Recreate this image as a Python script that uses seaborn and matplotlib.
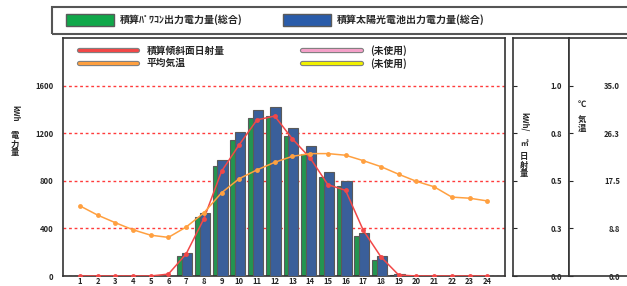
import numpy as np
import pandas as pd
import matplotlib
matplotlib.use("Agg")
import matplotlib.pyplot as plt
import matplotlib.patheffects as pe
from matplotlib.patches import Patch, Rectangle
from matplotlib.lines import Line2D
import seaborn as sns

# データ
hours = list(range(1, 25))
pcs_kwh = [0, 0, 0, 0, 0, 0, 168, 497, 926, 1145, 1330, 1347,
           1179, 1027, 834, 758, 337, 135, 5, 0, 0, 0, 0, 0]
pv_kwh = [0, 0, 0, 0, 0, 0, 194, 530, 977, 1212, 1398, 1423,
          1246, 1095, 876, 800, 362, 168, 15, 0, 0, 0, 0, 0]
solar_rad = [0, 0, 0, 0, 0, 0.01, 0.116, 0.30, 0.55, 0.69, 0.82, 0.84,
             0.72, 0.62, 0.48, 0.45, 0.24, 0.10, 0.005, 0, 0, 0, 0, 0]
avg_temp = [12.9, 11.2, 9.8, 8.5, 7.5, 7.1, 9.0, 11.6, 15.3, 17.9, 19.5, 20.9,
            22.0, 22.5, 22.5, 22.2, 21.2, 20.1, 18.7, 17.4, 16.4, 14.5, 14.3, 13.8]

power_ticks = [0, 400, 800, 1200, 1600]
rad_ticks = [0, 0.25, 0.5, 0.75, 1.0]
rad_labels = ["0.0", "0.3", "0.5", "0.8", "1.0"]
temp_ticks = [0, 8.75, 17.5, 26.25, 35.0]
temp_labels = ["0.0", "8.8", "17.5", "26.3", "35.0"]

pcs_name = "積算ﾊﾟﾜｺﾝ出力電力量(総合)"
pv_name = "積算太陽光電池出力電力量(総合)"
rad_name = "積算傾斜面日射量"
temp_name = "平均気温"
unused_name = "(未使用)"

green = "#10a84a"
blue = "#2a5caa"
red = "#f24848"
orange = "#ffa040"
edge = "#5a5a5a"

sns.set_style("white")
plt.rcParams['font.family'] = ['Noto Sans CJK JP', 'DejaVu Sans']
plt.rcParams['font.weight'] = 'bold'

fig = plt.figure(figsize=(6.27, 2.86), dpi=100)
W, H = 627, 286
bottom = 1 - 276 / H
height = (276 - 38) / H

# メイン（棒グラフ）
ax = fig.add_axes([63 / W, bottom, (505 - 63) / W, height])
df = pd.DataFrame({
    "hour": hours * 2,
    "kwh": pcs_kwh + pv_kwh,
    "series": [pcs_name] * 24 + [pv_name] * 24,
})
sns.barplot(data=df, x="hour", y="kwh", hue="series", hue_order=[pcs_name, pv_name],
            palette={pcs_name: green, pv_name: blue}, native_scale=True, dodge=True,
            width=0.9, edgecolor=edge, linewidth=0.8, errorbar=None, legend=False, ax=ax)
# 緑は後ろ、青は重ねて少し広く
for p in ax.patches:
    c = p.get_x() + p.get_width() / 2
    h = round(c)
    if c < h:
        p.set_x(h - 0.5)
        p.set_width(0.4)
        p.set_zorder(2)
    else:
        p.set_x(h - 0.24)
        p.set_width(0.58)
        p.set_zorder(3)

ax.set_xlim(0.05, 25.0)
ax.set_ylim(0, 2000)
ax.set_xticks(hours, [str(h) for h in hours])
ax.set_yticks(power_ticks, [str(v) for v in power_ticks])
ax.tick_params(axis='x', length=0, pad=0.5, labelsize=5.5)
ax.tick_params(axis='y', length=0, pad=7, labelsize=5.5)
ax.yaxis.grid(True, color="#ff3b3b", linestyle=(0, (2, 2)), linewidth=1)
ax.set_xlabel("")
ax.set_ylabel("")
for s in ax.spines.values():
    s.set_color("#333333")
    s.set_linewidth(1.2)

# 日射量・気温（折れ線）
ax_rad = ax.twinx()
ax_rad.set_ylim(0, 1.25)
ax_tmp = ax.twinx()
ax_tmp.set_ylim(0, 43.75)
sns.lineplot(x=hours, y=avg_temp, ax=ax_tmp, color=orange, marker='o', markersize=3.5,
             markeredgewidth=0, linewidth=1.1)
sns.lineplot(x=hours, y=solar_rad, ax=ax_rad, color=red, marker='o', markersize=3.5,
             markeredgewidth=0, linewidth=1.1)
ax_rad.set_axis_off()
ax_tmp.set_axis_off()


def line_handle(c):
    return Line2D([], [], color=c, lw=2.2,
                  path_effects=[pe.Stroke(linewidth=3.8, foreground="#808080"), pe.Normal()])


ax.legend([line_handle(red), line_handle(orange), line_handle("#f4a0c8"), line_handle("#f0f000")],
          [rad_name, temp_name, unused_name, unused_name],
          ncol=2, loc='upper left', bbox_to_anchor=(0.02, 1.0), frameon=False, fontsize=7,
          handlelength=6, columnspacing=8, labelspacing=0.25, borderaxespad=0.3,
          handletextpad=1.0)

# 右側の目盛りパネル
ax_p2 = fig.add_axes([513 / W, bottom, (569 - 513) / W, height])
ax_p2.set_ylim(0, 1.25)
ax_p2.set_xticks([])
ax_p2.set_yticks(rad_ticks, rad_labels)
ax_p2.tick_params(axis='y', left=True, right=False, labelleft=False, labelright=True,
                  direction='in', length=3, pad=-5, labelsize=5.5)
for t in ax_p2.get_yticklabels():
    t.set_horizontalalignment('right')

ax_p3 = fig.add_axes([569 / W, bottom, (627 - 569) / W, height])
ax_p3.set_ylim(0, 43.75)
ax_p3.set_xticks([])
ax_p3.set_yticks(temp_ticks, temp_labels)
ax_p3.tick_params(axis='y', left=True, right=False, labelleft=False, labelright=True,
                  direction='in', length=3, pad=-5, labelsize=5.5)
for t in ax_p3.get_yticklabels():
    t.set_horizontalalignment('right')
ax_p3.spines['right'].set_visible(False)
for a in (ax_p2, ax_p3):
    for s in a.spines.values():
        s.set_color("#333333")
        s.set_linewidth(1.2)

# 軸ラベル
fig.text(15 / W, 1 - 113 / H, "kWh", rotation=-90, ha='center', va='center', fontsize=5.5)
fig.text(15 / W, 1 - 144 / H, "電\n力\n量", ha='center', va='center', fontsize=6, linespacing=0.95)
fig.text(524 / W, 1 - 122 / H, "kWh/", rotation=-90, ha='center', va='center', fontsize=5.5)
fig.text(524 / W, 1 - 143 / H, "㎡", ha='center', va='center', fontsize=5.5)
fig.text(524 / W, 1 - 165 / H, "日\n射\n量", ha='center', va='center', fontsize=6, linespacing=0.95)
fig.text(582 / W, 1 - 104 / H, "℃", ha='center', va='center', fontsize=6)
fig.text(582 / W, 1 - 124 / H, "気\n温", ha='center', va='center', fontsize=6, linespacing=0.95)

# 上部の凡例
fig.add_artist(Rectangle((52 / W, 1 - 34 / H), 1, 27 / H, transform=fig.transFigure,
                         fill=False, edgecolor="#555555", linewidth=1.5))
fig.legend([Patch(facecolor=green, edgecolor=edge), Patch(facecolor=blue, edgecolor=edge)],
           [pcs_name, pv_name], ncol=2, loc='center left',
           bbox_to_anchor=(57 / W, 1 - 20 / H), frameon=False, fontsize=7.2,
           handlelength=4.8, handleheight=1.6, columnspacing=4.0, handletextpad=0.6)

fig.savefig("out.png", dpi=100)
